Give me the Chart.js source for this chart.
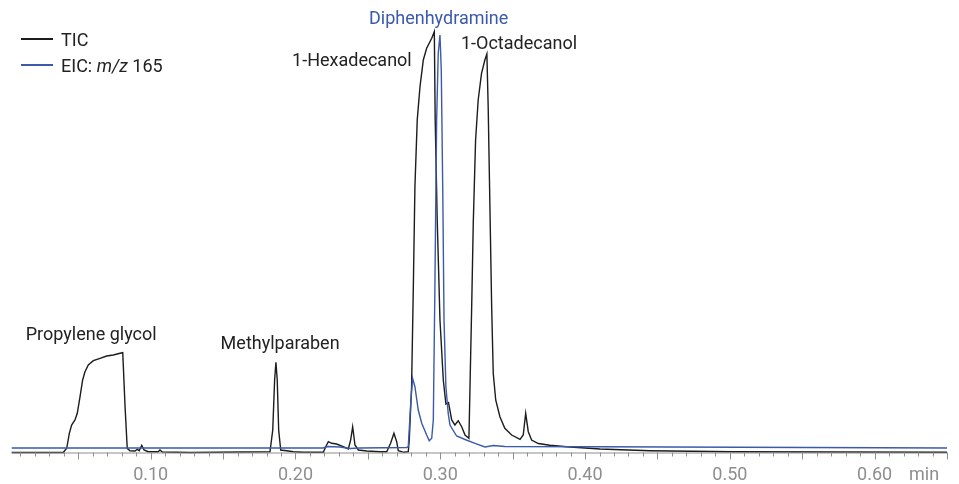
<!DOCTYPE html>
<html>
<head>
<meta charset="utf-8">
<script src="https://cdn.jsdelivr.net/npm/chart.js@4.4.1/dist/chart.umd.min.js"></script>
<style>
    html, body { margin: 0; padding: 0; background: #fff; }
    canvas { display: block; }
</style>
</head>
<body>
<canvas id="chromatogram" width="959" height="484"></canvas>
<script>
const ticTime = [
    0.0040, 0.0236, 0.0396, 0.0420, 0.0438, 0.0454, 0.0477, 0.0493, 0.0512, 0.0530,
    0.0546, 0.0569, 0.0604, 0.0650, 0.0696, 0.0742, 0.0788, 0.0807, 0.0823, 0.0838,
    0.0857, 0.0892, 0.0907, 0.0921, 0.0938, 0.0954, 0.0983, 0.1052, 0.1064, 0.1080,
    0.1271, 0.1824, 0.1843, 0.1856, 0.1865, 0.1874, 0.1884, 0.1898, 0.1939, 0.1985,
    0.2054, 0.2192, 0.2215, 0.2227, 0.2250, 0.2284, 0.2330, 0.2365, 0.2381, 0.2395,
    0.2411, 0.2434, 0.2492, 0.2584, 0.2630, 0.2657, 0.2680, 0.2699, 0.2710, 0.2749,
    0.2779, 0.2786, 0.2802, 0.2814, 0.2825, 0.2841, 0.2860, 0.2883, 0.2906, 0.2941,
    0.2959, 0.2965, 0.2979, 0.2998, 0.3021, 0.3039, 0.3057, 0.3079, 0.3101, 0.3124,
    0.3148, 0.3171, 0.3198, 0.3205, 0.3217, 0.3228, 0.3244, 0.3262, 0.3285, 0.3308,
    0.3322, 0.3331, 0.3343, 0.3355, 0.3366, 0.3383, 0.3412, 0.3446, 0.3493, 0.3551,
    0.3573, 0.3590, 0.3608, 0.3631, 0.3677, 0.3757, 0.3873, 0.4103, 0.4448, 0.5021,
    0.5712, 0.6500,
];
const ticAbundance = [
    0, 0, 0, 4.2, 19.2, 27.5, 32.5, 39.2, 55.8, 72.5,
    80.8, 87.5, 91.8, 94.2, 96.5, 97.5, 99.2, 99.8, 45.8, 4.2,
    1.8, 1.5, 3.2, 1.8, 7.2, 2.5, 0.8, 0.8, 2.5, 0.5,
    0, 0.8, 22.5, 72.5, 90.2, 72.5, 22.5, 2.5, 1.8, 0.8,
    0.2, 0.2, 7.5, 10.8, 9.2, 8.5, 5.8, 3.5, 12.5, 25.8,
    7.5, 2.5, 1.5, 0.8, 0.8, 9.2, 19.2, 10.8, 1.8, 0.2,
    0.8, 12.5, 65.8, 165.8, 265.8, 332.5, 365.8, 392.5, 404.2, 414.2,
    420.8, 332.5, 232.5, 132.5, 72.5, 48.5, 50, 32.5, 27.5, 31.8,
    25.8, 17.5, 14.2, 62.5, 145.8, 229.2, 312.5, 352.5, 379.2, 392.5,
    398.5, 345.8, 245.8, 145.8, 79.2, 52.5, 35.8, 24.2, 17.5, 13.2,
    17.5, 39.2, 20.8, 12.5, 9, 7.2, 5.8, 3.5, 1.8, 0.8,
    0.5, 0.2,
];

const eicTime = [
    0.0040, 0.2190, 0.2225, 0.2307, 0.2376, 0.2445, 0.2768, 0.2779, 0.2796, 0.2809,
    0.2825, 0.2848, 0.2872, 0.2906, 0.2924, 0.2941, 0.2952, 0.2963, 0.2975, 0.2986,
    0.2998, 0.3007, 0.3017, 0.3026, 0.3039, 0.3055, 0.3067, 0.3113, 0.3171, 0.3240,
    0.3309, 0.3366, 0.3446, 0.4103, 0.6500,
];
const eicAbundance = [
    4.5, 4.5, 6, 5.5, 4, 4.5, 5, 5.8, 49.2, 74.2,
    65.8, 42.5, 29.2, 17.5, 11.8, 14.2, 32.5, 165.8, 332.5, 399.2,
    417.5, 382.5, 265.8, 132.5, 65.8, 39.2, 27.5, 16.5, 13, 9.2,
    5.5, 7, 6, 5.8, 4.5,
];

const tickLabels = ["0.10", "0.20", "0.30", "0.40", "0.50", "0.60"];

// Noms des composés, ancrés en coordonnées de données (min, abondance)
const peakNames = ["Propylene glycol", "Methylparaben", "1-Hexadecanol", "Diphenhydramine", "1-Octadecanol"];
const peakNameTime = [0.0137, 0.1483, 0.2803, 0.2989, 0.3143];
const peakNameAbundance = [113, 103.5, 387, 428.5, 403.5];
const peakNameAlign = ["left", "left", "right", "center", "left"];

const TIC_COLOR = "#1c1c1c";
const EIC_COLOR = "#3b5aab";
const AXIS_COLOR = "#8e8e8e";
const FONT = "Roboto, 'Noto Sans', sans-serif";

function toPoints(times, values) {
    return times.map((t, i) => ({ x: t, y: values[i] }));
}

/** Axe x façon logiciel de chromato : petites graduations tous les 0.01,
 *  grandes tous les 0.05, unité "min" après le dernier libellé. */
const axisPlugin = {
    id: "chromAxis",
    afterDraw(chart) {
        const { ctx, chartArea } = chart;
        const x = chart.scales.x;
        const y0 = chartArea.bottom;
        ctx.save();
        ctx.strokeStyle = AXIS_COLOR;
        ctx.lineWidth = 1;
        ctx.beginPath();
        ctx.moveTo(chartArea.left, y0 + 0.5);
        ctx.lineTo(chartArea.right, y0 + 0.5);
        x.ticks.forEach((tick) => {
            const px = Math.round(x.getPixelForValue(tick.value)) + 0.5;
            const hundredths = Math.round(tick.value * 100);
            const len = hundredths % 5 === 0 ? 7 : 4;
            ctx.moveTo(px, y0);
            ctx.lineTo(px, y0 + len);
        });
        ctx.stroke();

        ctx.fillStyle = AXIS_COLOR;
        ctx.font = "18px " + FONT;
        ctx.textAlign = "left";
        ctx.textBaseline = "alphabetic";
        ctx.fillText("min", 909, 480);
        ctx.restore();
    },
};

const labelsPlugin = {
    id: "peakLabels",
    afterDatasetsDraw(chart) {
        const { ctx } = chart;
        const xs = chart.scales.x;
        const ys = chart.scales.y;
        ctx.save();
        ctx.font = "18px " + FONT;
        ctx.textBaseline = "alphabetic";
        peakNames.forEach((name, i) => {
            ctx.fillStyle = name === "Diphenhydramine" ? EIC_COLOR : "#222";
            ctx.textAlign = peakNameAlign[i];
            ctx.fillText(
                name,
                xs.getPixelForValue(peakNameTime[i]),
                ys.getPixelForValue(peakNameAbundance[i]),
            );
        });

        // Légende maison (m/z en italique)
        ctx.lineWidth = 2;
        ctx.strokeStyle = TIC_COLOR;
        ctx.beginPath();
        ctx.moveTo(21, 39);
        ctx.lineTo(53, 39);
        ctx.stroke();
        ctx.strokeStyle = EIC_COLOR;
        ctx.beginPath();
        ctx.moveTo(21, 65);
        ctx.lineTo(53, 65);
        ctx.stroke();

        ctx.fillStyle = "#222";
        ctx.textAlign = "left";
        ctx.fillText("TIC", 61, 46);
        let cx = 61;
        const parts = [
            ["EIC: ", "18px " + FONT],
            ["m/z", "italic 18px " + FONT],
            [" 165", "18px " + FONT],
        ];
        parts.forEach(([text, font]) => {
            ctx.font = font;
            ctx.fillText(text, cx, 72);
            cx += ctx.measureText(text).width;
        });
        ctx.restore();
    },
};

new Chart(document.getElementById("chromatogram"), {
    type: "line",
    data: {
        datasets: [
            {
                label: "EIC: m/z 165",
                data: toPoints(eicTime, eicAbundance),
                borderColor: EIC_COLOR,
                borderWidth: 1.4,
                pointRadius: 0,
                tension: 0,
                clip: false,
                order: 0,
            },
            {
                label: "TIC",
                data: toPoints(ticTime, ticAbundance),
                borderColor: TIC_COLOR,
                borderWidth: 1.4,
                pointRadius: 0,
                tension: 0,
                clip: false,
                order: 1,
            },
        ],
    },
    options: {
        responsive: false,
        animation: false,
        events: [],
        layout: { padding: { left: 11.7, right: 11.9, top: 12.5, bottom: 0 } },
        plugins: { legend: { display: false }, tooltip: { enabled: false } },
        scales: {
            x: {
                type: "linear",
                min: 0.004,
                max: 0.65,
                afterBuildTicks: (scale) => {
                    scale.ticks = [];
                    for (let i = 1; i <= 65; i++) scale.ticks.push({ value: i / 100 });
                },
                afterFit: (scale) => {
                    scale.height = 31.5;
                },
                grid: { display: false, drawTicks: false },
                border: { display: false },
                ticks: {
                    autoSkip: false,
                    maxRotation: 0,
                    padding: 12,
                    color: AXIS_COLOR,
                    font: { family: FONT, size: 18 },
                    callback: (value) => {
                        const label = Number(value).toFixed(2);
                        return tickLabels.includes(label) ? label : "";
                    },
                },
            },
            y: {
                display: false,
                min: 0,
                max: 440,
            },
        },
    },
    plugins: [axisPlugin, labelsPlugin],
});
</script>
</body>
</html>
